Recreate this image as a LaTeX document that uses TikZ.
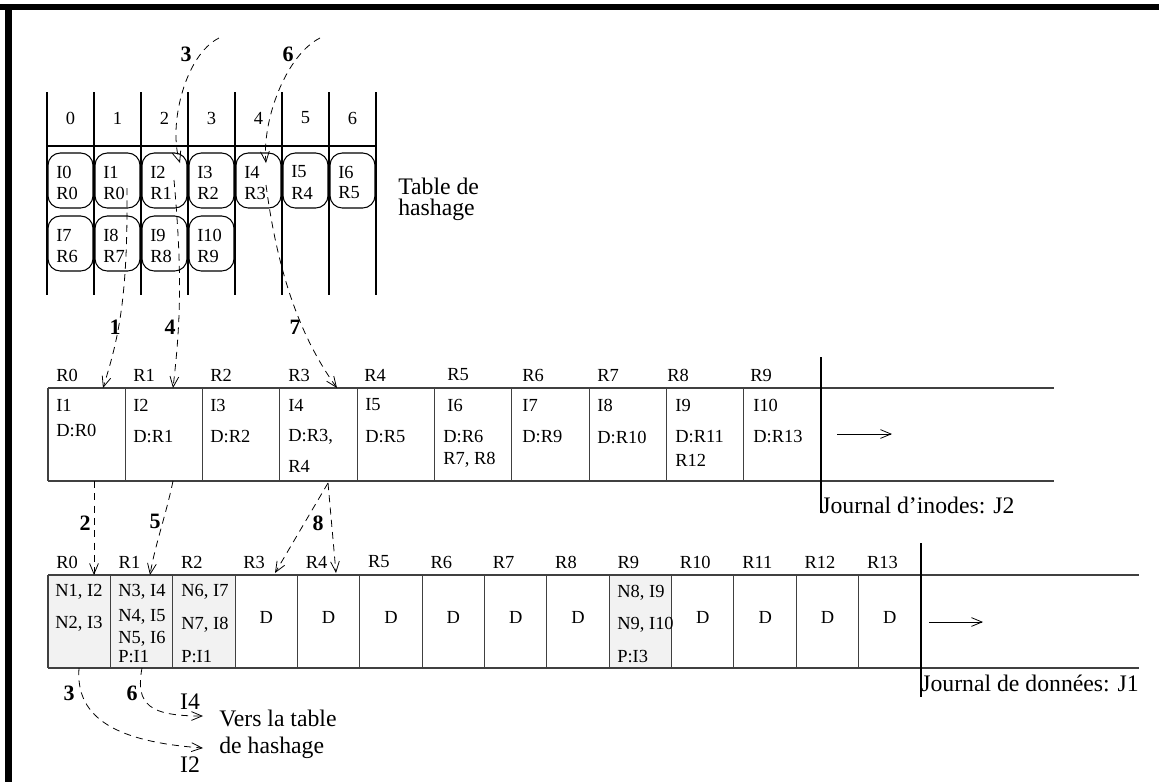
\documentclass[tikz,border=0pt]{standalone}
\usepackage{fontspec}
\setmainfont{Liberation Serif}
\usetikzlibrary{arrows.meta}

\begin{document}
\begin{tikzpicture}[x=0.02cm, y=-0.02cm,
  txt/.style={anchor=west, inner sep=0pt, font=\fontsize{10.5}{12}\selectfont},
  ctxt/.style={inner sep=0pt, font=\fontsize{10.5}{12}\selectfont},
  big/.style={anchor=west, inner sep=0pt, font=\fontsize{13.5}{15}\selectfont},
  num/.style={inner sep=0pt, font=\fontsize{12.5}{14}\selectfont\bfseries},
  ptr/.style={dash pattern=on 4pt off 3pt, -{Straight Barb[length=6pt,width=5pt]}, line width=0.45pt},
  jline/.style={black!75, line width=0.6pt},
  hline/.style={line width=0.8pt}]

\useasboundingbox (0,0) rectangle (1159,782);

%%%%%% frame %%%
\fill[black] (0,4) rectangle (1159,10);
\fill[black] (5,4) rectangle (12,782);

%%%%%%%%%%%%     table de hashage   %%%%%%%%%%%%
{
\foreach \x in {47,94,...,376} \draw[hline] (\x,92) -- (\x,295);
\draw[hline] (47,146) -- (376,146);

\foreach \i in {0,...,6} \node[ctxt] (col\i) at ({70.5+47*\i},118) {\i};

\foreach \i/\a/\b in {0/I0/R0,1/I1/R0,2/I2/R1,3/I3/R2,4/I4/R3,5/I5/R4,6/I6/R5}{
  \draw[line width=0.6pt, rounded corners=7pt] ({48+47*\i},153) rectangle ({93+47*\i},208);
  \node[txt] (hi\i) at ({56+47*\i},172) {\a};
  \node[txt] (hr\i) at ({56+47*\i},193) {\b};
}
\foreach \i/\a/\b in {0/I7/R6,1/I8/R7,2/I9/R8,3/I10/R9}{
  \draw[line width=0.6pt, rounded corners=7pt] ({48+47*\i},216) rectangle ({93+47*\i},271);
  \node[txt] (hj\i) at ({56+47*\i},235) {\a};
  \node[txt] (hs\i) at ({56+47*\i},256) {\b};
}

\node[big] (tab1) at (398,186) {Table de};
\node[big] (tab2) at (398,210) {hashage};
}

%%%%%%%%%%%%     journal d'inodes   %%%%%%%%%%%%
{
\foreach \k in {0,...,9} \draw[jline] ({48+77.3*\k},388) -- ({48+77.3*\k},481);
\draw[jline] (48,388) -- (1054,388);
\draw[jline] (48,481) -- (1054,481);
\draw[line width=0.6pt] (821,357) -- (821,513);

\foreach \x/\r in {56/R0,133/R1,210/R2,288/R3,364/R4,447/R5,522/R6,597/R7,667/R8,750/R9}
  \node[txt] (ih\r) at (\x,375) {\r};

\node[txt] (ic0) at (56,405) {I1};   \node[txt] (id0) at (56,430) {D:R0};
\node[txt] (ic1) at (133,405) {I2};  \node[txt] (id1) at (133,437) {D:R1};
\node[txt] (ic2) at (210,405) {I3};  \node[txt] (id2) at (210,437) {D:R2};
\node[txt] (ic3) at (288,405) {I4};  \node[txt] (id3) at (288,437) {D:R3,};
\node[txt] (ie3) at (288,466) {R4};
\node[txt] (ic4) at (365,405) {I5};  \node[txt] (id4) at (365,437) {D:R5};
\node[txt] (ic5) at (447,405) {I6};  \node[txt] (id5) at (443,437) {D:R6};
\node[txt] (ie5) at (443,460) {R7, R8};
\node[txt] (ic6) at (522,405) {I7};  \node[txt] (id6) at (522,437) {D:R9};
\node[txt] (ic7) at (597,405) {I8};  \node[txt] (id7) at (597,437) {D:R10};
\node[txt] (ic8) at (675,405) {I9};  \node[txt] (id8) at (675,437) {D:R11};
\node[txt] (ie8) at (675,460) {R12};
\node[txt] (ic9) at (753,405) {I10}; \node[txt] (id9) at (753,437) {D:R13};

\coordinate (ia) at (837,434);
\coordinate (ib) at (892,434);
\draw[-{Straight Barb[length=6pt,width=5pt]}, line width=0.45pt] (ia) -- (ib);

\node[big, anchor=base west] (jl2) at (821,513) {Journal d'inodes: J2};
}

%%%%%%%%%%%%     journal de donnees   %%%%%%%%%%%%
{
\fill[gray!10] (48,575) rectangle (235,668);
\fill[gray!10] (609,575) rectangle (672,668);
\foreach \k in {0,...,13} \draw[jline] ({48+62.36*\k},575) -- ({48+62.36*\k},668);
\draw[jline] (48,575) -- (1139,575);
\draw[jline] (48,668) -- (1139,668);
\draw[line width=0.6pt] (921,543) -- (921,697);

\foreach \k in {0,...,13} \node[txt] (dh\k) at ({56+62.36*\k},562) {R\k};
\foreach \k in {3,4,5,6,7,8,10,11,12,13} \node[ctxt] (dd\k) at ({79.2+62.36*\k},617) {D};

\node[txt] (da1) at (55,592) {N1, I2};
\node[txt] (da2) at (55,624) {N2, I3};
\node[txt] (db1) at (118,592) {N3, I4};
\node[txt] (db2) at (118,617) {N4, I5};
\node[txt] (db3) at (118,639) {N5, I6};
\node[txt] (db4) at (118,657) {P:I1};
\node[txt] (dc1) at (181,592) {N6, I7};
\node[txt] (dc2) at (181,625) {N7, I8};
\node[txt] (dc3) at (181,657) {P:I1};
\node[txt] (dj1) at (617,593) {N8, I9};
\node[txt] (dj2) at (617,625) {N9, I10};
\node[txt] (dj3) at (617,657) {P:I3};

\coordinate (da) at (929,622);
\coordinate (db) at (983,622);
\draw[-{Straight Barb[length=6pt,width=5pt]}, line width=0.45pt] (da) -- (db);

\node[big, anchor=base west] (jl1) at (921,691) {Journal de données: J1};
}

%%%%%%%%%%%%     pointeurs   %%%%%%%%%%%%
{
\coordinate (in3) at (219,38);  \coordinate (to3) at (180,163);
\coordinate (in6) at (320,38);  \coordinate (to6) at (266,163);
\draw[ptr] (in3) .. controls (185,55) and (168,125) .. (to3);
\draw[ptr] (in6) .. controls (286,55) and (262,120) .. (to6);
\node[num] (n3) at (186,54) {3};
\node[num] (n6) at (288,54) {6};

\coordinate (p1) at (127,188);  \coordinate (q1) at (103,388);
\coordinate (p4) at (174,180);  \coordinate (q4) at (173,388);
\coordinate (p7) at (266,185);  \coordinate (q7) at (337,388);
\draw[ptr] (p1) .. controls (128,300) and (118,340) .. (q1);
\draw[ptr] (p4) .. controls (182,270) and (181,320) .. (q4);
\draw[ptr] (p7) .. controls (276,260) and (295,330) .. (q7);
\node[num] (n1) at (115,327) {1};
\node[num] (n4) at (170,327) {4};
\node[num] (n7) at (295,327) {7};

\coordinate (p2) at (94,481);   \coordinate (q2) at (94,575);
\coordinate (p5) at (173,481);  \coordinate (q5) at (150,575);
\coordinate (p8) at (328,483);  \coordinate (q8) at (275,573);
\coordinate (r8) at (336,573);
\draw[ptr] (p2) -- (q2);
\draw[ptr] (p5) .. controls (166,515) and (155,545) .. (q5);
\draw[ptr] (p8) -- (q8);
\draw[ptr] (p8) -- (r8);
\node[num] (n2) at (85,523) {2};
\node[num] (n5) at (155,521) {5};
\node[num] (n8) at (318,523) {8};

\coordinate (b3) at (79,668);   \coordinate (e3) at (203,748);
\coordinate (b6) at (142,668);  \coordinate (e6) at (203,716);
\draw[ptr] (b3) .. controls (75,720) and (120,742) .. (e3);
\draw[ptr] (b6) .. controls (135,705) and (150,716) .. (e6);
\node[num] (m3) at (69,693) {3};
\node[num] (m6) at (132,693) {6};
\node[big, anchor=center] (i4) at (190,702) {I4};
\node[big, anchor=center] (i2) at (190,765) {I2};
\node[big] (vers1) at (219,718) {Vers la table};
\node[big] (vers2) at (219,748) {de hashage};
}

\end{tikzpicture}
\end{document}
